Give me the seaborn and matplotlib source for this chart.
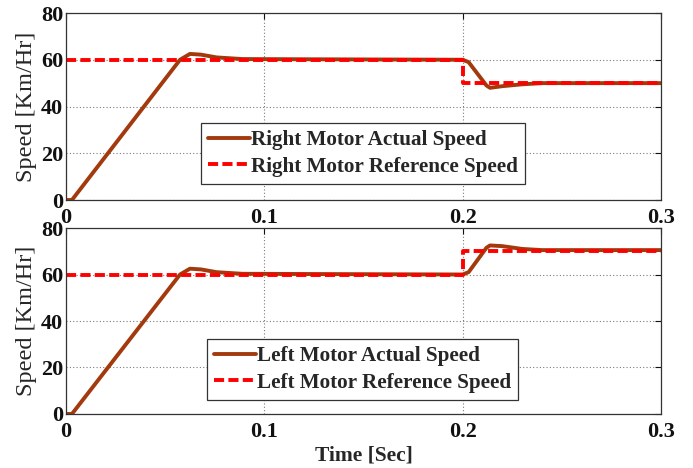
import matplotlib
matplotlib.use("Agg")
import matplotlib.pyplot as plt
import seaborn as sns
import pandas as pd

# ---- data ----
t_actual = [0, 0.003, 0.0575, 0.0625, 0.068, 0.076, 0.089, 0.2, 0.203, 0.212, 0.2138, 0.22, 0.23, 0.24, 0.3]
right_actual = [0, 0, 60, 62.5, 62.2, 61, 60.3, 60, 59, 49, 48, 48.7, 49.5, 50, 50]
left_actual = [0, 0, 60, 62.5, 62.2, 61, 60.3, 60, 61, 71.5, 72.5, 72.2, 71, 70.5, 70.5]

t_ref = [0, 0.2, 0.2, 0.3]
right_ref = [60, 60, 50, 50]
left_ref = [60, 60, 70, 70]

x_ticks = [0, 0.1, 0.2, 0.3]
x_ticklabels = ["0", "0.1", "0.2", "0.3"]
y_ticks = [0, 20, 40, 60, 80]

legend_right = ["Right Motor Actual Speed", "Right Motor Reference Speed"]
legend_left = ["Left Motor Actual Speed", "Left Motor Reference Speed"]
ylabel = "Speed [Km/Hr]"
xlabel = "Time [Sec]"

sns.set_theme(style="white")
plt.rcParams["font.family"] = ["Liberation Serif", "DejaVu Serif"]

fig = plt.figure(figsize=(6.93, 4.68), dpi=100)
ax1 = fig.add_axes([0.0952, 0.5726, 0.8586, 0.3996])
ax2 = fig.add_axes([0.0952, 0.1154, 0.8586, 0.3974])

ACT = "#A33A0E"
REF = "#FF0000"

def draw(ax, act, ref, labels, legpos):
    da = pd.DataFrame({"t": t_actual, "v": act})
    dr = pd.DataFrame({"t": t_ref, "v": ref})
    sns.lineplot(data=da, x="t", y="v", ax=ax, color=ACT, linewidth=2.8,
                 sort=False, estimator=None, label=labels[0])
    sns.lineplot(data=dr, x="t", y="v", ax=ax, color=REF, linewidth=2.8,
                 linestyle=(0, (2.6, 1.1)), sort=False, estimator=None,
                 label=labels[1])
    ax.set_xlim(0, 0.3)
    ax.set_ylim(0, 80)
    ax.set_xticks(x_ticks)
    ax.set_xticklabels(x_ticklabels)
    ax.set_yticks(y_ticks)
    ax.grid(True, linestyle=(0, (1, 2)), color="#7a7a7a", linewidth=0.8)
    ax.tick_params(axis="both", direction="in", length=4, width=0.8,
                   top=True, right=True, labelsize=16, colors="#111111")
    ax.tick_params(axis="x", pad=5.5)
    ax.tick_params(axis="y", pad=2)
    for lab in ax.get_xticklabels() + ax.get_yticklabels():
        lab.set_fontweight("bold")
    for s in ax.spines.values():
        s.set_color("#333333")
        s.set_linewidth(0.9)
    ax.set_ylabel(ylabel, fontsize=17.5, labelpad=3)
    ax.set_xlabel("")
    leg = ax.legend(loc="upper left", bbox_to_anchor=legpos, frameon=True,
                    fancybox=False, edgecolor="#333333", framealpha=1,
                    prop={"weight": "bold", "size": 15.2}, handlelength=1.95,
                    handletextpad=0.05, borderpad=0.35, labelspacing=0.3,
                    borderaxespad=0)
    leg.get_frame().set_linewidth(0.9)

draw(ax1, right_actual, right_ref, legend_right, (0.227, 0.412))
draw(ax2, left_actual, left_ref, legend_left, (0.237, 0.403))
ax2.set_xlabel(xlabel, fontsize=15.5, fontweight="bold", labelpad=3)

fig.savefig("out.png", dpi=100)
